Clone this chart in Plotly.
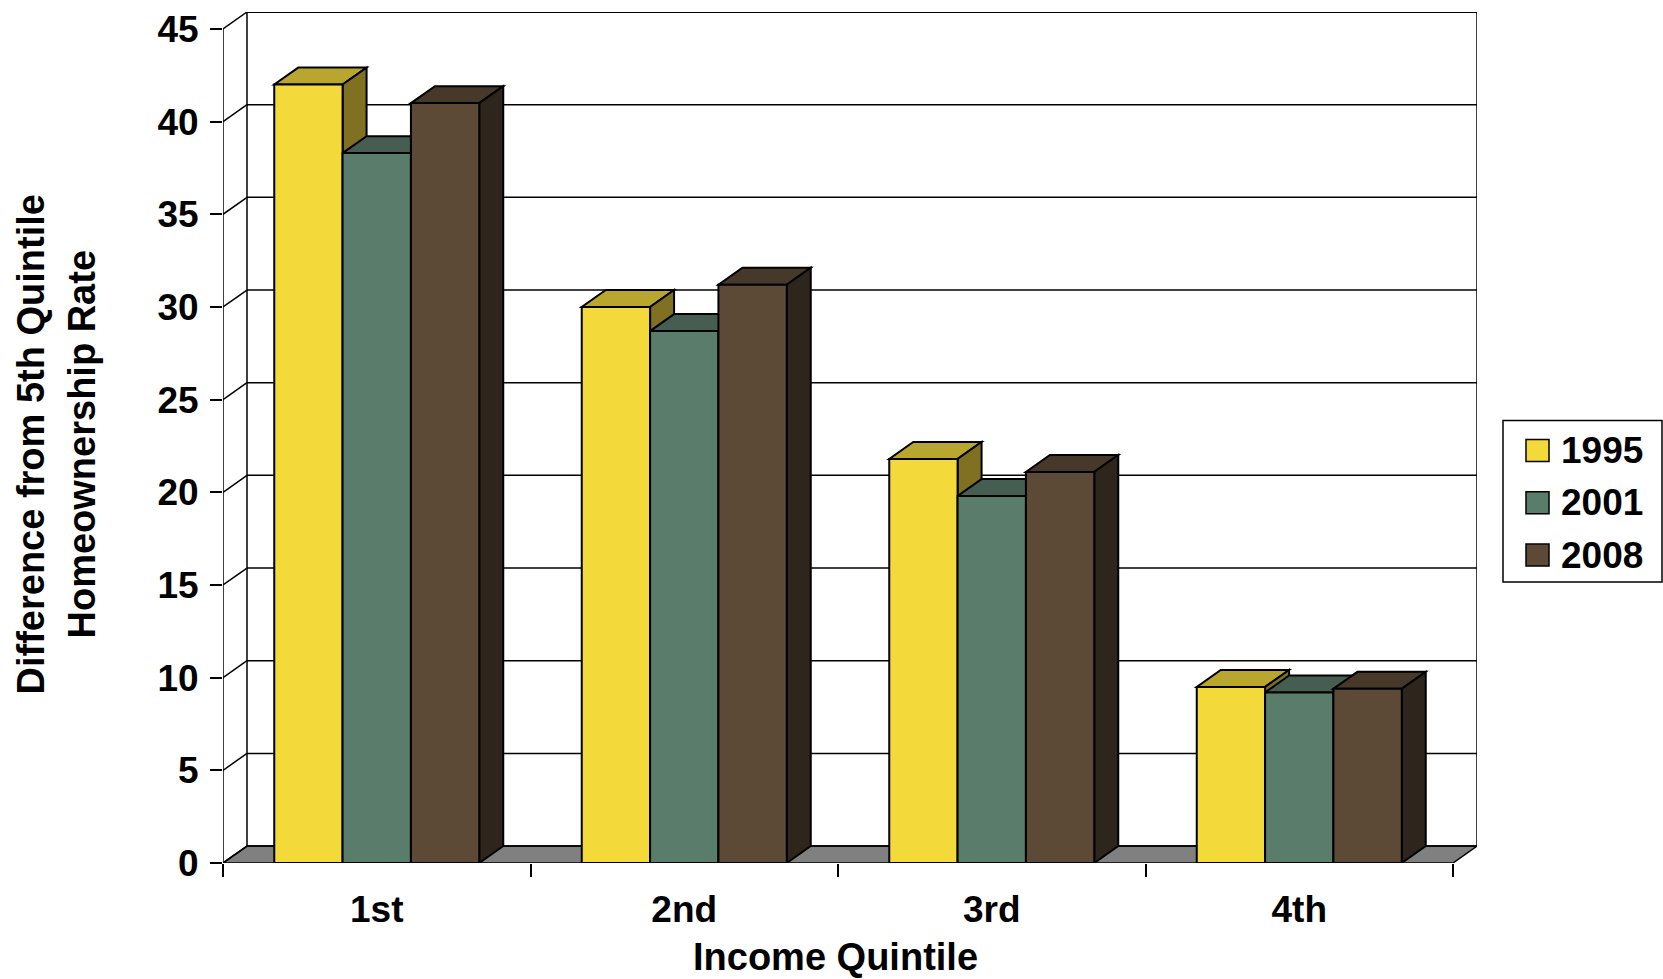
import plotly.graph_objects as go

# Gap between each income quintile's homeownership rate and the 5th quintile's
quintiles = ["1st", "2nd", "3rd", "4th"]
years = ["1995", "2001", "2008"]
gap_1995 = [42.0, 30.0, 21.8, 9.5]
gap_2001 = [38.3, 28.7, 19.8, 9.2]
gap_2008 = [41.0, 31.2, 21.1, 9.4]
y_ticks = [0, 5, 10, 15, 20, 25, 30, 35, 40, 45]

series = [gap_1995, gap_2001, gap_2008]
front_colors = ["#F4D93B", "#5A7C6B", "#5C4A37"]
top_colors = ["#B9A62E", "#465E51", "#46392A"]
side_colors = ["#7F7121", "#2F3F37", "#2E251C"]

FONT = "Liberation Sans, Arial, sans-serif"
W, H = 1663, 979
ML, MR, MT, MB = 223, 186, 9, 116
PW, PH = W - ML - MR, H - MT - MB

# Pseudo-3D depth of the chart box, in pixels, converted to data units
DEPTH_X_PX, DEPTH_Y_PX = 24, 17
n_cat = len(quintiles)
cat_px = (PW - DEPTH_X_PX) / n_cat
dx = DEPTH_X_PX / cat_px
y_top = y_ticks[-1]
unit_px = (PH - DEPTH_Y_PX) / y_top
dy = DEPTH_Y_PX / unit_px

x_lo, x_hi = -0.5, n_cat - 0.5
BARGAP = 1 / 3
bar_w = (1 - BARGAP) / len(series)

EDGE = dict(color="black", width=2)
GRID = dict(color="black", width=1.5)


def poly(points):
    return "M " + " L ".join(f"{x},{y}" for x, y in points) + " Z"


shapes = []

# Floor of the chart box
shapes.append(dict(type="path", xref="x", yref="y", layer="below",
                   path=poly([(x_lo, 0), (x_hi, 0), (x_hi + dx, dy), (x_lo + dx, dy)]),
                   fillcolor="#808080", line=GRID))

# Back-wall gridlines and the matching diagonals on the side wall
for v in y_ticks:
    shapes.append(dict(type="line", xref="x", yref="y", layer="below",
                       x0=x_lo + dx, x1=x_hi + dx, y0=v + dy, y1=v + dy,
                       line=dict(color="black", width=2 if v == y_top else 1.5)))
    shapes.append(dict(type="line", xref="x", yref="y", layer="below",
                       x0=x_lo, x1=x_lo + dx, y0=v, y1=v + dy, line=GRID))

# Wall edges and the front value axis
for xv, y0, y1 in [(x_lo + dx, dy, y_top + dy), (x_hi + dx, dy, y_top + dy), (x_lo, 0, y_top)]:
    shapes.append(dict(type="line", xref="x", yref="y", layer="below",
                       x0=xv, x1=xv, y0=y0, y1=y1, line=GRID))

# Top and side faces of each column, drawn left to right so later columns overlap
for ci in range(n_cat):
    for si, vals in enumerate(series):
        v = vals[ci]
        left = ci - (1 - BARGAP) / 2 + si * bar_w
        right = left + bar_w
        shapes.append(dict(type="path", xref="x", yref="y", layer="below",
                           path=poly([(left, v), (right, v), (right + dx, v + dy), (left + dx, v + dy)]),
                           fillcolor=top_colors[si], line=EDGE))
        shapes.append(dict(type="path", xref="x", yref="y", layer="below",
                           path=poly([(right, 0), (right, v), (right + dx, v + dy), (right + dx, dy)]),
                           fillcolor=side_colors[si], line=EDGE))

fig = go.Figure()
for si, vals in enumerate(series):
    fig.add_trace(go.Bar(
        x=quintiles, y=vals, name=years[si], showlegend=False,
        marker=dict(color=front_colors[si], line=EDGE),
    ))


def px_x(p):
    return (p - ML) / PW


def px_y(p):
    return 1 - (p - MT) / PH


# Legend box with swatches
shapes.append(dict(type="rect", xref="paper", yref="paper",
                   x0=px_x(1503), x1=px_x(1662), y0=px_y(581), y1=px_y(419),
                   line=dict(color="black", width=1.5), fillcolor="white"))
annotations = []
for si, yr in enumerate(years):
    cy = 449 + si * 52.5
    shapes.append(dict(type="rect", xref="paper", yref="paper",
                       x0=px_x(1526), x1=px_x(1549), y0=px_y(cy + 11), y1=px_y(cy - 11),
                       fillcolor=front_colors[si], line=dict(color="black", width=1.5)))
    annotations.append(dict(xref="paper", yref="paper", x=px_x(1559), y=px_y(cy),
                            xanchor="left", yanchor="middle", showarrow=False, text=yr,
                            font=dict(family=FONT, size=37, color="black", weight="bold")))

# Axis titles
for txt, xc in [("Difference from 5th Quintile", 31), ("Homeownership Rate", 82)]:
    annotations.append(dict(xref="paper", yref="paper", x=px_x(xc), y=px_y(443),
                            xanchor="center", yanchor="middle", textangle=-90,
                            showarrow=False, text=txt,
                            font=dict(family=FONT, size=38, color="black", weight="bold")))
annotations.append(dict(xref="paper", yref="paper", x=px_x(835), y=px_y(957),
                        xanchor="center", yanchor="middle", showarrow=False,
                        text="Income Quintile",
                        font=dict(family=FONT, size=38, color="black", weight="bold")))

fig.update_layout(
    width=W, height=H,
    margin=dict(l=ML, r=MR, t=MT, b=MB, pad=0),
    paper_bgcolor="white", plot_bgcolor="white",
    barmode="group", bargap=BARGAP, bargroupgap=0,
    showlegend=False,
    shapes=shapes, annotations=annotations,
    font=dict(family=FONT, size=37, color="black"),
)
fig.update_xaxes(
    type="category", range=[x_lo, x_hi + dx], tickson="boundaries",
    ticks="outside", ticklen=13, tickwidth=1.5, tickcolor="black",
    showline=False, showgrid=False, zeroline=False,
    tickfont=dict(family=FONT, size=37, color="black", weight="bold"),
    ticklabelstandoff=21,
)
fig.update_yaxes(
    range=[0, y_top + dy], tickvals=y_ticks, ticktext=[str(t) for t in y_ticks],
    ticks="outside", ticklen=12, tickwidth=1.5, tickcolor="black",
    showline=False, showgrid=False, zeroline=False,
    tickfont=dict(family=FONT, size=37, color="black", weight="bold"),
    ticklabelstandoff=4,
)

fig.write_html("out.html")
